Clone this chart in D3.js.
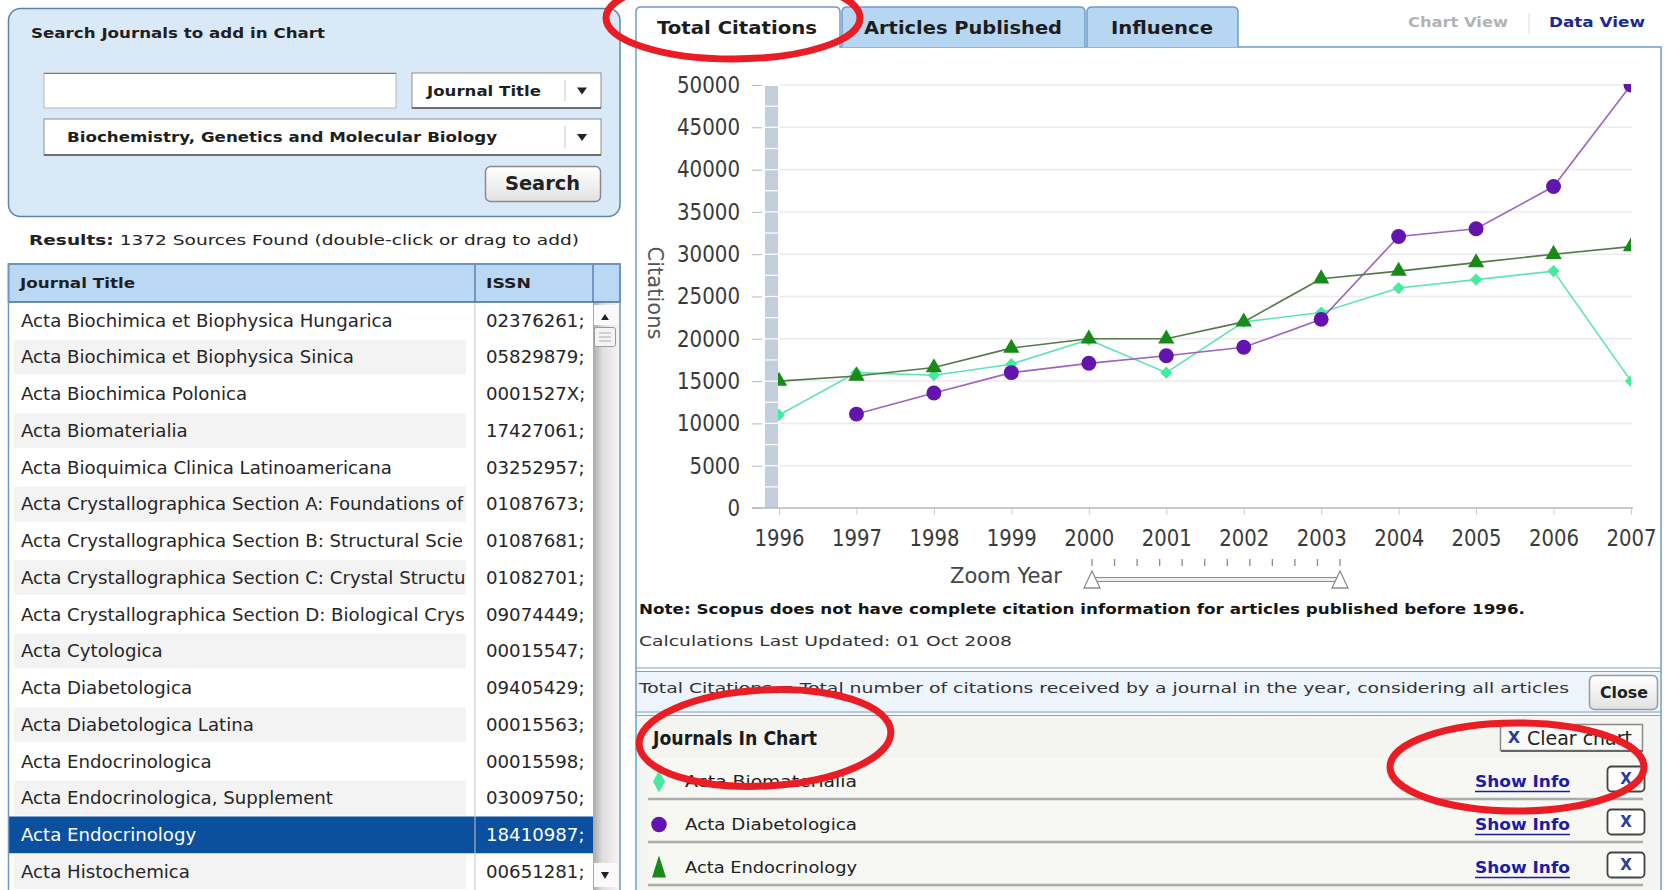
<!DOCTYPE html>
<html>
<head>
<meta charset="utf-8">
<script src="https://cdn.jsdelivr.net/npm/d3@7"></script>
<style>
html, body { margin: 0; padding: 0; background: #fff; overflow: hidden; }
text { font-family: "DejaVu Sans", Verdana, sans-serif; }
</style>
</head>
<body>
<div id="chart-area"></div>
<script>
// ---- data ----
const years = [1996, 1997, 1998, 1999, 2000, 2001, 2002, 2003, 2004, 2005, 2006, 2007];
const biomaterialia = [11000, 16000, 15700, 17000, 19900, 16000, 22000, 23100, 26000, 27000, 28000, 15000];
const diabetologica = [null, 11100, 13600, 16000, 17100, 18000, 19000, 22300, 32100, 33000, 38000, 50000];
const endocrinology = [15000, 15600, 16600, 18900, 20000, 20000, 22000, 27100, 28000, 29000, 30000, 30900];
const yTicks = [0, 5000, 10000, 15000, 20000, 25000, 30000, 35000, 40000, 45000, 50000];

// titles as far as the narrow column shows them
const journalTitles = [
  "Acta Biochimica et Biophysica Hungarica",
  "Acta Biochimica et Biophysica Sinica",
  "Acta Biochimica Polonica",
  "Acta Biomaterialia",
  "Acta Bioquimica Clinica Latinoamericana",
  "Acta Crystallographica Section A: Foundations of",
  "Acta Crystallographica Section B: Structural Scie",
  "Acta Crystallographica Section C: Crystal Structu",
  "Acta Crystallographica Section D: Biological Crys",
  "Acta Cytologica",
  "Acta Diabetologica",
  "Acta Diabetologica Latina",
  "Acta Endocrinologica",
  "Acta Endocrinologica, Supplement",
  "Acta Endocrinology",
  "Acta Histochemica"
];
const journalIssns = [
  "02376261;", "05829879;", "0001527X;", "17427061;", "03252957;", "01087673;",
  "01087681;", "01082701;", "09074449;", "00015547;", "09405429;", "00015563;",
  "00015598;", "03009750;", "18410987;", "00651281;"
];
const selectedTitle = "Acta Endocrinology";
const chartJournals = ["Acta Biomaterialia", "Acta Diabetologica", "Acta Endocrinology"];
const tabNames = ["Total Citations", "Articles Published", "Influence"];

const W = 1667, H = 890;
const svg = d3.select("#chart-area").append("svg")
    .attr("width", W).attr("height", H);
const defs = svg.append("defs");

function fit(sel, w) {
  return sel.attr("textLength", w).attr("lengthAdjust", "spacingAndGlyphs");
}

const btnGrad = defs.append("linearGradient").attr("id", "btn").attr("x1", 0).attr("y1", 0).attr("x2", 0).attr("y2", 1);
btnGrad.append("stop").attr("offset", "0%").attr("stop-color", "#ffffff");
btnGrad.append("stop").attr("offset", "100%").attr("stop-color", "#e2e2e2");

const scrollGrad = defs.append("linearGradient").attr("id", "scroll").attr("x1", 0).attr("y1", 0).attr("x2", 1).attr("y2", 0);
scrollGrad.append("stop").attr("offset", "0%").attr("stop-color", "#a9a9a9");
scrollGrad.append("stop").attr("offset", "35%").attr("stop-color", "#dedede");
scrollGrad.append("stop").attr("offset", "100%").attr("stop-color", "#f6f6f6");

// ================= left side =================
const left = svg.append("g");

left.append("rect")
    .attr("x", 8.5).attr("y", 8.5).attr("width", 611.5).attr("height", 208)
    .attr("rx", 12).attr("fill", "#dae9f7").attr("stroke", "#5b85b0").attr("stroke-width", 1.5);

fit(left.append("text").attr("x", 31).attr("y", 33).attr("dy", "0.35em")
    .attr("font-size", 14).attr("font-weight", "bold").attr("fill", "#1f1f1f")
    .text("Search Journals to add in Chart"), 294);

// text input
left.append("rect").attr("x", 44).attr("y", 73).attr("width", 352).attr("height", 35)
    .attr("fill", "#fff").attr("stroke", "#b5b5b5");
left.append("line").attr("x1", 44).attr("x2", 396).attr("y1", 73.5).attr("y2", 73.5).attr("stroke", "#7a7a7a");

// dropdowns
function dropdown(x0, y0, w, h, label, lx, lw) {
  left.append("rect").attr("x", x0).attr("y", y0).attr("width", w).attr("height", h)
      .attr("fill", "#fff").attr("stroke", "#8d8d8d");
  left.append("line").attr("x1", x0).attr("x2", x0 + w).attr("y1", y0 + h).attr("y2", y0 + h)
      .attr("stroke", "#6f6f6f").attr("stroke-width", 2);
  left.append("line").attr("x1", 565).attr("x2", 565).attr("y1", y0 + 7).attr("y2", y0 + h - 7)
      .attr("stroke", "#c8c8c8");
  left.append("path").attr("d", `M577,${y0 + h / 2 - 3}L587,${y0 + h / 2 - 3}L582,${y0 + h / 2 + 4}Z`)
      .attr("fill", "#222");
  fit(left.append("text").attr("x", lx).attr("y", y0 + h / 2).attr("dy", "0.35em")
      .attr("font-size", 14.5).attr("font-weight", "bold").attr("fill", "#1f1f1f").text(label), lw);
}
dropdown(412, 73, 189, 35, "Journal Title", 427, 114);
dropdown(44, 119, 557, 36, "Biochemistry, Genetics and Molecular Biology", 67, 430);

// search button
left.append("rect").attr("x", 485.5).attr("y", 166.5).attr("width", 115).attr("height", 35).attr("rx", 5)
    .attr("fill", "url(#btn)").attr("stroke", "#8a8a8a").attr("stroke-width", 1.5);
fit(left.append("text").attr("x", 505).attr("y", 183.5).attr("dy", "0.35em")
    .attr("font-size", 19).attr("font-weight", "bold").attr("fill", "#222").text("Search"), 75);

// results line
const res = left.append("text").attr("x", 29).attr("y", 240).attr("dy", "0.35em")
    .attr("font-size", 14.5).attr("fill", "#222");
res.append("tspan").attr("font-weight", "bold").text("Results:");
res.append("tspan").text(" 1372 Sources Found (double-click or drag to add)");
fit(res, 550);

// table
const headTop = 264, bodyTop = 302, colIssn = 475, colScroll = 593, tableRight = 620;
const rowBand = d3.scaleBand().domain(d3.range(journalTitles.length)).range([bodyTop, H]);

left.append("rect").attr("x", 8.5).attr("y", bodyTop).attr("width", tableRight - 8.5).attr("height", H - bodyTop)
    .attr("fill", "#fff");

journalTitles.forEach((t, i) => {
  const yy = rowBand(i);
  if (t === selectedTitle) {
    left.append("rect").attr("x", 9).attr("y", yy).attr("width", colScroll - 9).attr("height", rowBand.bandwidth())
        .attr("fill", "#0b4f9f");
  } else if (i % 2 === 1) {
    left.append("rect").attr("x", 14).attr("y", yy + 1).attr("width", 452).attr("height", rowBand.bandwidth() - 2)
        .attr("fill", "#f3f3f3");
  }
});

defs.append("clipPath").attr("id", "titleClip")
  .append("rect").attr("x", 9).attr("y", bodyTop).attr("width", 462).attr("height", H - bodyTop);

const probe = svg.append("text").attr("font-size", 15).text(journalTitles[0]);
const rowFont = 15 * 372 / probe.node().getComputedTextLength();
probe.remove();

const titleG = left.append("g").attr("clip-path", "url(#titleClip)");
titleG.selectAll("text").data(journalTitles).enter().append("text")
    .attr("x", 21).attr("y", (d, i) => rowBand(i) + rowBand.bandwidth() / 2).attr("dy", "0.35em")
    .attr("font-size", rowFont)
    .attr("fill", d => d === selectedTitle ? "#ffffff" : "#262626")
    .text(d => d);

left.selectAll("text.issn").data(journalIssns).enter().append("text").attr("class", "issn")
    .attr("x", 486).attr("y", (d, i) => rowBand(i) + rowBand.bandwidth() / 2).attr("dy", "0.35em")
    .attr("font-size", rowFont)
    .attr("fill", (d, i) => journalTitles[i] === selectedTitle ? "#ffffff" : "#262626")
    .text(d => d);

left.append("line").attr("x1", colIssn).attr("x2", colIssn).attr("y1", bodyTop).attr("y2", H)
    .attr("stroke", "#c4c4c4");

// scrollbar
left.append("rect").attr("x", colScroll).attr("y", bodyTop).attr("width", tableRight - colScroll).attr("height", H - bodyTop)
    .attr("fill", "url(#scroll)");
left.append("rect").attr("x", colScroll + 1).attr("y", bodyTop + 3).attr("width", 24).attr("height", 20)
    .attr("fill", "#fafafa");
left.append("path").attr("d", "M601,320L609,320L605,314Z").attr("fill", "#222");
left.append("rect").attr("x", colScroll + 1.5).attr("y", 327.5).attr("width", 21).attr("height", 19).attr("rx", 2)
    .attr("fill", "#f4f4f4").attr("stroke", "#9a9a9a");
[333, 337, 341].forEach(v => left.append("line").attr("x1", 599).attr("x2", 611).attr("y1", v).attr("y2", v).attr("stroke", "#aaa"));
left.append("rect").attr("x", colScroll + 1).attr("y", 863).attr("width", 24).attr("height", 24)
    .attr("fill", "#fafafa");
left.append("path").attr("d", "M601,872L609,872L605,879Z").attr("fill", "#222");

// header
left.append("rect").attr("x", 8.5).attr("y", headTop).attr("width", tableRight - 8.5).attr("height", bodyTop - headTop)
    .attr("fill", "#bad8f4").attr("stroke", "#3f6d9c").attr("stroke-width", 1.5);
[colIssn, colScroll].forEach(cx => left.append("line").attr("x1", cx).attr("x2", cx)
    .attr("y1", headTop).attr("y2", bodyTop).attr("stroke", "#3f6d9c").attr("stroke-width", 1.2));
fit(left.append("text").attr("x", 20).attr("y", 283).attr("dy", "0.35em").attr("font-size", 14.5)
    .attr("font-weight", "bold").attr("fill", "#1f1f1f").text("Journal Title"), 115);
fit(left.append("text").attr("x", 486).attr("y", 283).attr("dy", "0.35em").attr("font-size", 14.5)
    .attr("font-weight", "bold").attr("fill", "#1f1f1f").text("ISSN"), 45);

left.append("rect").attr("x", 8.5).attr("y", headTop).attr("width", tableRight - 8.5).attr("height", H - headTop + 2)
    .attr("fill", "none").attr("stroke", "#6f98c2").attr("stroke-width", 1.5);

// ================= right side =================
const right = svg.append("g");
const panelL = 636, panelR = 1661, panelT = 47;

right.append("rect").attr("x", panelL).attr("y", panelT).attr("width", panelR - panelL).attr("height", H - panelT + 2)
    .attr("fill", "#fff").attr("stroke", "#6f9cc9").attr("stroke-width", 1.5);

// tabs
const tabX = [[636, 840], [842, 1085], [1087, 1238]];
const tabText = [[657, 160], [864, 198], [1111, 102]];
tabNames.forEach((t, i) => {
  const [a, b] = tabX[i];
  const active = i === 0;
  right.append("path")
      .attr("d", `M${a},${panelT + (active ? 1 : 0)}L${a},12Q${a},7 ${a + 5},7L${b - 5},7Q${b},7 ${b},12L${b},${panelT + (active ? 1 : 0)}`)
      .attr("fill", active ? "#ffffff" : "#b7d6f1").attr("stroke", "#6f9cc9").attr("stroke-width", 1.5);
  fit(right.append("text").attr("x", tabText[i][0]).attr("y", 28).attr("dy", "0.35em")
      .attr("font-size", 18).attr("font-weight", "bold").attr("fill", "#1d1d1d").text(t), tabText[i][1]);
});

fit(right.append("text").attr("x", 1408).attr("y", 22).attr("dy", "0.35em").attr("font-size", 14)
    .attr("font-weight", "bold").attr("fill", "#b3b3b3").text("Chart View"), 100);
right.append("line").attr("x1", 1529).attr("x2", 1529).attr("y1", 13).attr("y2", 34).attr("stroke", "#dcdcdc");
fit(right.append("text").attr("x", 1549).attr("y", 22).attr("dy", "0.35em").attr("font-size", 14)
    .attr("font-weight", "bold").attr("fill", "#1b2a8e").text("Data View"), 96);

// ---- chart ----
const x = d3.scaleLinear().domain([1996, 2007]).range([779, 1631]);
const y = d3.scaleLinear().domain([0, 50000]).range([508, 85]);
const chart = right.append("g");

chart.selectAll("line.grid").data(yTicks.slice(1)).enter().append("line").attr("class", "grid")
    .attr("x1", 780).attr("x2", 1632).attr("y1", d => y(d)).attr("y2", d => y(d))
    .attr("stroke", "#ebebeb").attr("stroke-width", 1.5);

// grey band beside the y axis
chart.append("rect").attr("x", 765).attr("y", y(50000) + 1).attr("width", 13).attr("height", y(0) - y(50000) - 1)
    .attr("fill", "#c2cedb");
chart.selectAll("line.band").data(d3.range(2500, 50000, 2500)).enter().append("line").attr("class", "band")
    .attr("x1", 765).attr("x2", 778).attr("y1", d => y(d)).attr("y2", d => y(d))
    .attr("stroke", "#ffffff").attr("stroke-width", 1.2);

const yAxis = chart.append("g").attr("transform", "translate(762,0)")
    .call(d3.axisLeft(y).tickValues(yTicks).tickSize(10).tickPadding(12).tickFormat(d3.format("d")));
yAxis.select(".domain").remove();
yAxis.selectAll(".tick line").attr("stroke", "#b8b8b8");
yAxis.selectAll(".tick text").attr("font-family", "Liberation Sans, Arial, sans-serif")
    .attr("font-size", 23).attr("fill", "#3a3a3a")
    .attr("textLength", d => String(d).length * 12.6).attr("lengthAdjust", "spacingAndGlyphs");

const xAxis = chart.append("g").attr("transform", "translate(0,508)")
    .call(d3.axisBottom(x).tickValues(years).tickSize(7).tickPadding(15).tickFormat(d3.format("d")));
xAxis.select(".domain").remove();
xAxis.selectAll(".tick line").attr("stroke", "#cfcfcf");
xAxis.selectAll(".tick text").attr("font-family", "Liberation Sans, Arial, sans-serif")
    .attr("font-size", 23).attr("fill", "#3a3a3a")
    .attr("textLength", 50).attr("lengthAdjust", "spacingAndGlyphs");
chart.append("line").attr("x1", 752).attr("x2", 1633).attr("y1", 508).attr("y2", 508)
    .attr("stroke", "#b8b8b8").attr("stroke-width", 1.5);

chart.append("text").attr("transform", "translate(655,293) rotate(90)").attr("text-anchor", "middle")
    .attr("dy", "0.35em").attr("font-family", "Liberation Sans, Arial, sans-serif")
    .attr("font-size", 21).attr("fill", "#555").text("Citations");

defs.append("clipPath").attr("id", "plotClip")
  .append("rect").attr("x", 778).attr("y", 84).attr("width", 1631 - 778).attr("height", 440);

const series = [
  { name: chartJournals[0], values: biomaterialia, line: "#5fe3b9", fill: "#45ea9c", symbol: d3.symbolDiamond2, size: 95 },
  { name: chartJournals[1], values: diabetologica, line: "#9c62c4", fill: "#6314ae", symbol: d3.symbolCircle, size: 175 },
  { name: chartJournals[2], values: endocrinology, line: "#55784a", fill: "#178a17", symbol: d3.symbolTriangle, size: 115 }
];

const plot = chart.append("g").attr("clip-path", "url(#plotClip)");
const lineGen = d3.line().defined(d => d.v != null).x(d => x(d.year)).y(d => y(d.v));

series.forEach(s => {
  const pts = years.map((yr, i) => ({ year: yr, v: s.values[i] }));
  plot.append("path").datum(pts).attr("d", lineGen)
      .attr("fill", "none").attr("stroke", s.line).attr("stroke-width", 1.6);
  plot.selectAll(null).data(pts.filter(d => d.v != null)).enter().append("path")
      .attr("d", d3.symbol().type(s.symbol).size(s.size))
      .attr("transform", d => `translate(${x(d.year)},${y(d.v)})`)
      .attr("fill", s.fill);
});

// zoom year slider
const zx = d3.scaleLinear().domain([1996, 2007]).range([1092, 1340]);
fit(chart.append("text").attr("x", 950).attr("y", 576).attr("dy", "0.35em")
    .attr("font-family", "Liberation Sans, Arial, sans-serif").attr("font-size", 21).attr("fill", "#444")
    .text("Zoom Year"), 112);
chart.selectAll("line.ztick").data(years).enter().append("line").attr("class", "ztick")
    .attr("x1", d => zx(d)).attr("x2", d => zx(d)).attr("y1", 559).attr("y2", 566)
    .attr("stroke", "#8a8a8a").attr("stroke-width", 1.3);
chart.append("rect").attr("x", zx(1996)).attr("y", 577.5).attr("width", zx(2007) - zx(1996)).attr("height", 4)
    .attr("fill", "#efefef").attr("stroke", "#8c8c8c");
[1996, 2007].forEach(d => {
  const cx = zx(d);
  chart.append("path").attr("d", `M${cx},571L${cx - 8},588L${cx + 8},588Z`)
      .attr("fill", "#fff").attr("stroke", "#8c8c8c").attr("stroke-width", 1.3);
});

// notes
fit(right.append("text").attr("x", 639).attr("y", 609).attr("dy", "0.35em").attr("font-size", 14.5)
    .attr("font-weight", "bold").attr("fill", "#151515")
    .text("Note: Scopus does not have complete citation information for articles published before 1996."), 886);
fit(right.append("text").attr("x", 639).attr("y", 641).attr("dy", "0.35em").attr("font-size", 14.5)
    .attr("fill", "#333").text("Calculations Last Updated: 01 Oct 2008"), 373);

// definition strip
right.append("rect").attr("x", panelL + 1).attr("y", 671).attr("width", panelR - panelL - 2).attr("height", 43)
    .attr("fill", "#edf4fb");
[668, 671.5, 712, 715.5].forEach(v => right.append("line").attr("x1", panelL).attr("x2", panelR)
    .attr("y1", v).attr("y2", v).attr("stroke", "#7aa3c9").attr("stroke-width", 1.2));
fit(right.append("text").attr("x", 639).attr("y", 688).attr("dy", "0.35em").attr("font-size", 14.5)
    .attr("fill", "#333")
    .text("Total Citations = Total number of citations received by a journal in the year, considering all articles"), 930);
right.append("rect").attr("x", 1589.5).attr("y", 675.5).attr("width", 68).attr("height", 34).attr("rx", 5)
    .attr("fill", "url(#btn)").attr("stroke", "#9a9a9a").attr("stroke-width", 1.5);
fit(right.append("text").attr("x", 1600).attr("y", 693).attr("dy", "0.35em").attr("font-size", 15)
    .attr("font-weight", "bold").attr("fill", "#222").text("Close"), 48);

// journals in chart
right.append("rect").attr("x", panelL + 1).attr("y", 716.5).attr("width", panelR - panelL - 2).attr("height", H - 716)
    .attr("fill", "#f4f4f0");
fit(right.append("text").attr("x", 653).attr("y", 738).attr("dy", "0.35em").attr("font-size", 19)
    .attr("font-weight", "bold").attr("fill", "#1a1a1a").text("Journals In Chart"), 164);

right.append("rect").attr("x", 1500.5).attr("y", 724.5).attr("width", 142).attr("height", 26)
    .attr("fill", "#fafafa").attr("stroke", "#8a8a8a").attr("stroke-width", 1.5);
right.append("line").attr("x1", 1501).attr("x2", 1643).attr("y1", 751).attr("y2", 751).attr("stroke", "#666").attr("stroke-width", 2);
right.append("text").attr("x", 1514).attr("y", 737).attr("dy", "0.35em").attr("text-anchor", "middle")
    .attr("font-size", 16).attr("font-weight", "bold").attr("fill", "#2a3d9a").text("X");
fit(right.append("text").attr("x", 1527).attr("y", 738).attr("dy", "0.35em").attr("font-size", 19)
    .attr("fill", "#222").text("Clear chart"), 105);

const legendBand = d3.scaleBand().domain(chartJournals).range([756, 885]);
chartJournals.forEach((name, i) => {
  const top = legendBand(name), cy = top + legendBand.bandwidth() / 2 + 4;
  right.append("rect").attr("x", 648).attr("y", top + 2).attr("width", 995).attr("height", legendBand.bandwidth() - 4)
      .attr("fill", "#f7f7f4");
  right.append("line").attr("x1", 648).attr("x2", 1643).attr("y1", top + legendBand.bandwidth()).attr("y2", top + legendBand.bandwidth())
      .attr("stroke", "#ababab").attr("stroke-width", 2.5);
  const s = series[i];
  let icon;
  if (i === 0) icon = `M659,${cy - 11}L665,${cy}L659,${cy + 11}L653,${cy}Z`;
  else if (i === 1) icon = d3.symbol().type(d3.symbolCircle).size(190)();
  else icon = `M659,${cy - 12}L666,${cy + 10}L652,${cy + 10}Z`;
  const ic = right.append("path").attr("d", icon).attr("fill", s.fill);
  if (i === 1) ic.attr("transform", `translate(659,${cy})`);
  fit(right.append("text").attr("x", 685).attr("y", cy).attr("dy", "0.35em").attr("font-size", 16)
      .attr("fill", "#222").text(name), 172);
  fit(right.append("text").attr("x", 1475).attr("y", cy).attr("dy", "0.35em").attr("font-size", 16)
      .attr("font-weight", "bold").attr("fill", "#1c1ca6").text("Show Info"), 95);
  right.append("line").attr("x1", 1475).attr("x2", 1570).attr("y1", cy + 10).attr("y2", cy + 10)
      .attr("stroke", "#1c1ca6").attr("stroke-width", 1.5);
  right.append("rect").attr("x", 1607.5).attr("y", cy - 15).attr("width", 37).attr("height", 25).attr("rx", 4)
      .attr("fill", "#fff").attr("stroke", "#444").attr("stroke-width", 1.8);
  right.append("text").attr("x", 1626).attr("y", cy - 3).attr("dy", "0.35em").attr("text-anchor", "middle")
      .attr("font-size", 15).attr("font-weight", "bold").attr("fill", "#2a3d9a").text("X");
});

// ================= red annotation rings =================
const rings = svg.append("g").attr("fill", "none").attr("stroke", "#ea1d25").attr("stroke-width", 7);
rings.append("ellipse").attr("cx", 733).attr("cy", 18).attr("rx", 127).attr("ry", 41);
rings.append("ellipse").attr("cx", 765).attr("cy", 738).attr("rx", 126).attr("ry", 48)
    .attr("transform", "rotate(-3,765,738)");
rings.append("ellipse").attr("cx", 1517).attr("cy", 767).attr("rx", 127).attr("ry", 44);
</script>
</body>
</html>
